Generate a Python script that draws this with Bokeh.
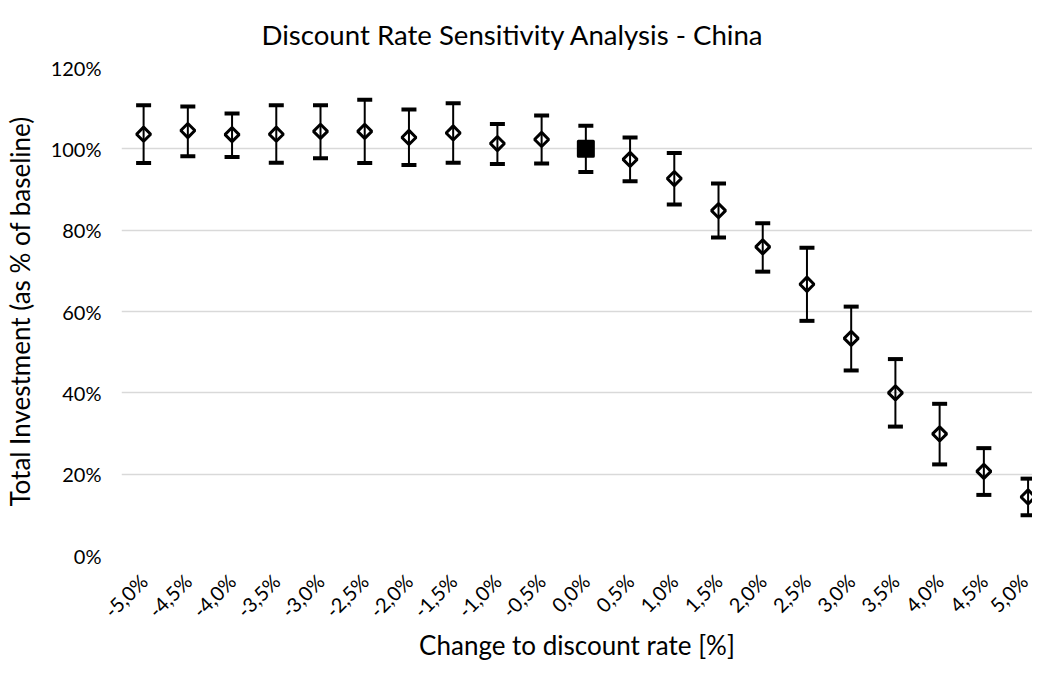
import math
from bokeh.plotting import figure
from bokeh.models import ColumnDataSource, Whisker, TeeHead, FixedTicker, Range1d
from bokeh.embed import file_html
from bokeh.resources import INLINE

# ---- data (values in % of baseline) ----
rate_labels = ["-5,0%", "-4,5%", "-4,0%", "-3,5%", "-3,0%", "-2,5%", "-2,0%",
               "-1,5%", "-1,0%", "-0,5%", "0,0%", "0,5%", "1,0%", "1,5%",
               "2,0%", "2,5%", "3,0%", "3,5%", "4,0%", "4,5%", "5,0%"]
investment = [103.6, 104.5, 103.5, 103.6, 104.3, 104.3, 102.8, 103.9, 101.3, 102.3,
              100.0, 97.4, 92.7, 84.8, 75.9, 66.7, 53.4, 40.0, 29.9, 20.7, 14.4]
upper = [110.7, 110.4, 108.7, 110.7, 110.7, 112.1, 109.7, 111.2, 106.1, 108.2,
         105.7, 102.8, 99.0, 91.5, 81.7, 75.7, 61.2, 48.3, 37.3, 26.4, 18.9]
lower = [96.5, 98.2, 98.0, 96.6, 97.7, 96.5, 96.0, 96.6, 96.3, 96.4,
         94.3, 92.0, 86.3, 78.2, 69.8, 57.7, 45.5, 31.7, 22.4, 14.9, 9.9]
baseline_label = "0,0%"
y_ticks = [0, 20, 40, 60, 80, 100, 120]
y_tick_labels = ["0%", "20%", "40%", "60%", "80%", "100%", "120%"]

xs = list(range(len(rate_labels)))
bi = rate_labels.index(baseline_label)

all_src = ColumnDataSource(dict(x=xs, y=investment, upper=upper, lower=lower))
others = [i for i in xs if i != bi]
dia_src = ColumnDataSource(dict(x=[xs[i] for i in others], y=[investment[i] for i in others]))
base_src = ColumnDataSource(dict(x=[xs[bi]], y=[investment[bi]]))

FONT = "Lato"

p = figure(width=1032, height=663, output_backend="svg", toolbar_location=None,
           x_range=Range1d(-0.5, 20.1), y_range=Range1d(0, 120),
           min_border_left=115, min_border_right=0, min_border_top=67,
           min_border_bottom=100)
p.outline_line_color = None
p.background_fill_color = "white"
p.border_fill_color = "white"

p.title.text = "Discount Rate Sensitivity Analysis - China"
p.title.text_font = FONT
p.title.text_font_size = "27.6px"
p.title.text_font_style = "normal"
p.title.text_color = "black"
p.title.align = "left"
p.title.vertical_align = "top"
p.title.offset = 140
p.title.standoff = 30

# grid
p.xgrid.visible = False
p.ygrid.grid_line_color = "#d9d9d9"
p.ygrid.grid_line_width = 1.5

# axes
for ax in (p.xaxis[0], p.yaxis[0]):
    ax.axis_line_color = None
    ax.major_tick_line_color = None
    ax.minor_tick_line_color = None
    ax.major_tick_out = 0
    ax.major_tick_in = 0
    ax.major_label_text_font = FONT
    ax.major_label_text_font_size = "20px"
    ax.major_label_text_color = "black"
    ax.axis_label_text_font = FONT
    ax.axis_label_text_font_size = "26px"
    ax.axis_label_text_font_style = "normal"
    ax.axis_label_text_color = "black"

p.yaxis.ticker = FixedTicker(ticks=y_ticks)
p.yaxis.major_label_overrides = {t: l for t, l in zip(y_ticks, y_tick_labels)}
p.yaxis.major_label_standoff = 20
p.yaxis.axis_label = "Total Investment (as % of baseline)"
p.yaxis.axis_label_standoff = 12

p.xaxis.ticker = FixedTicker(ticks=xs)
p.xaxis.major_label_overrides = {x: l for x, l in zip(xs, rate_labels)}
p.xaxis.major_label_orientation = math.pi / 4
p.xaxis.major_label_standoff = 22
p.xaxis.axis_label = "Change to discount rate [%]"
p.xaxis.axis_label_standoff = -5

# error bars
w = Whisker(source=all_src, base="x", upper="upper", lower="lower", dimension="height",
            line_width=2, line_color="black",
            upper_head=TeeHead(size=15, line_width=4, line_color="black"),
            lower_head=TeeHead(size=15, line_width=4, line_color="black"))
p.add_layout(w)

# hollow diamonds
p.scatter("x", "y", source=dia_src, marker="square", angle=math.pi / 4, size=10,
          fill_alpha=0, line_color="black", line_width=3)
# baseline filled square
p.scatter("x", "y", source=base_src, marker="square", size=15,
          fill_color="black", line_color="black", line_width=3, line_join="round")

open("out.html", "w").write(file_html(p, INLINE))
